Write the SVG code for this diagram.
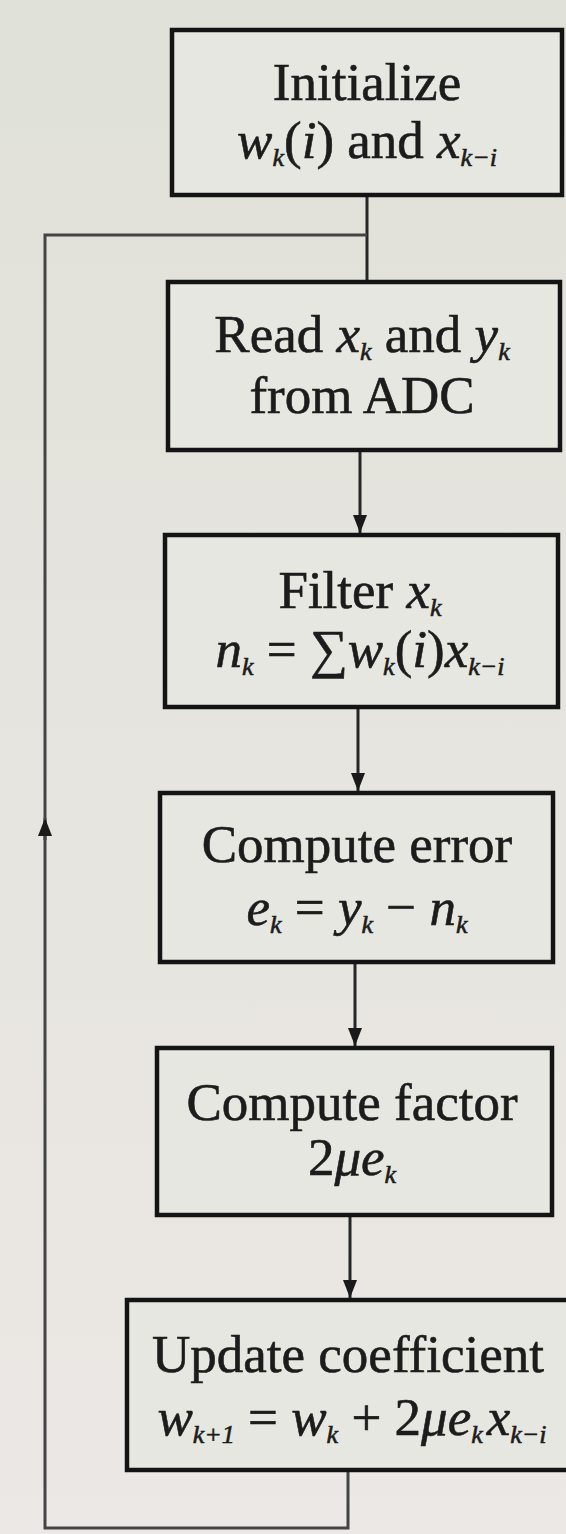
<svg xmlns="http://www.w3.org/2000/svg" width="566" height="1534" viewBox="0 0 566 1534">
<style>
.bg{fill:url(#g)}
.box{fill:#e7e7e1;stroke:#141414;stroke-width:4.5}
.t{font-family:"Liberation Serif","Times New Roman",serif;font-size:53px;fill:#1c1c1c;stroke:#1c1c1c;stroke-width:0.6;text-anchor:middle}
.i{font-style:italic}
.s{font-size:26px;font-style:italic}
.c{fill:none;stroke:#262626;stroke-width:3}
.lp{fill:none;stroke:#444;stroke-width:3}
</style>
<defs>
<linearGradient id="g" x1="0" y1="0" x2="0" y2="1">
<stop offset="0" stop-color="#e0e1d9"/>
<stop offset="1" stop-color="#ece8e5"/>
</linearGradient>
<marker id="ah" viewBox="0 0 18 14" refX="18" refY="7" markerWidth="18" markerHeight="14" markerUnits="userSpaceOnUse" orient="auto">
<path d="M0,0 L18,7 L0,14 Z" fill="#1a1a1a"/>
</marker>
</defs>
<rect class="bg" x="0" y="0" width="566" height="1534"/>
<g id="connectors">
<path class="c" d="M367,195 V282"/>
<path class="c" d="M360,450 V533" marker-end="url(#ah)"/>
<path class="c" d="M358,707 V791" marker-end="url(#ah)"/>
<path class="c" d="M355,962 V1046" marker-end="url(#ah)"/>
<path class="c" d="M350,1215 V1298" marker-end="url(#ah)"/>
<path class="lp" d="M348,1470 V1528 H45 V820"/>
<path class="lp" d="M45,840 V818" marker-end="url(#ah)"/>
<path class="lp" d="M45,820 V235 H367"/>
</g>
<g id="n1">
<rect class="box" x="172" y="30" width="390" height="165"/>
<text class="t" x="367" y="100">Initialize</text>
<text class="t" x="367" y="158"><tspan class="i">w</tspan><tspan class="s" dy="8">k</tspan><tspan dy="-8">(</tspan><tspan class="i">i</tspan>) and <tspan class="i">x</tspan><tspan class="s" dy="8">k−i</tspan></text>
</g>
<g id="n2">
<rect class="box" x="168" y="282" width="392" height="168"/>
<text class="t" x="362" y="352">Read <tspan class="i">x</tspan><tspan class="s" dy="8">k</tspan><tspan dy="-8"> and </tspan><tspan class="i">y</tspan><tspan class="s" dy="8">k</tspan></text>
<text class="t" x="362" y="413">from ADC</text>
</g>
<g id="n3">
<rect class="box" x="165" y="535" width="393" height="172"/>
<text class="t" x="360" y="608">Filter <tspan class="i">x</tspan><tspan class="s" dy="8">k</tspan></text>
<text class="t" x="360" y="667"><tspan class="i">n</tspan><tspan class="s" dy="8">k</tspan><tspan dy="-8"> = ∑</tspan><tspan class="i">w</tspan><tspan class="s" dy="8">k</tspan><tspan dy="-8">(</tspan><tspan class="i">i</tspan>)<tspan class="i">x</tspan><tspan class="s" dy="8">k−i</tspan></text>
</g>
<g id="n4">
<rect class="box" x="160" y="793" width="393" height="169"/>
<text class="t" x="357" y="862">Compute error</text>
<text class="t" x="357" y="925"><tspan class="i">e</tspan><tspan class="s" dy="8">k</tspan><tspan dy="-8"> = </tspan><tspan class="i">y</tspan><tspan class="s" dy="8">k</tspan><tspan dy="-8"> − </tspan><tspan class="i">n</tspan><tspan class="s" dy="8">k</tspan></text>
</g>
<g id="n5">
<rect class="box" x="157" y="1048" width="395" height="167"/>
<text class="t" x="352" y="1120">Compute factor</text>
<text class="t" x="352" y="1175">2<tspan class="i">μe</tspan><tspan class="s" dy="8">k</tspan></text>
</g>
<g id="n6">
<rect class="box" x="127" y="1300" width="445" height="170"/>
<text class="t" x="348" y="1372">Update coefficient</text>
<text class="t" x="352" y="1435"><tspan class="i">w</tspan><tspan class="s" dy="8">k+1</tspan><tspan dy="-8"> = </tspan><tspan class="i">w</tspan><tspan class="s" dy="8">k</tspan><tspan dy="-8"> + 2</tspan><tspan class="i">μe</tspan><tspan class="s" dy="8">k</tspan><tspan class="i" dy="-8" dx="4">x</tspan><tspan class="s" dy="8">k−i</tspan></text>
</g>
</svg>
